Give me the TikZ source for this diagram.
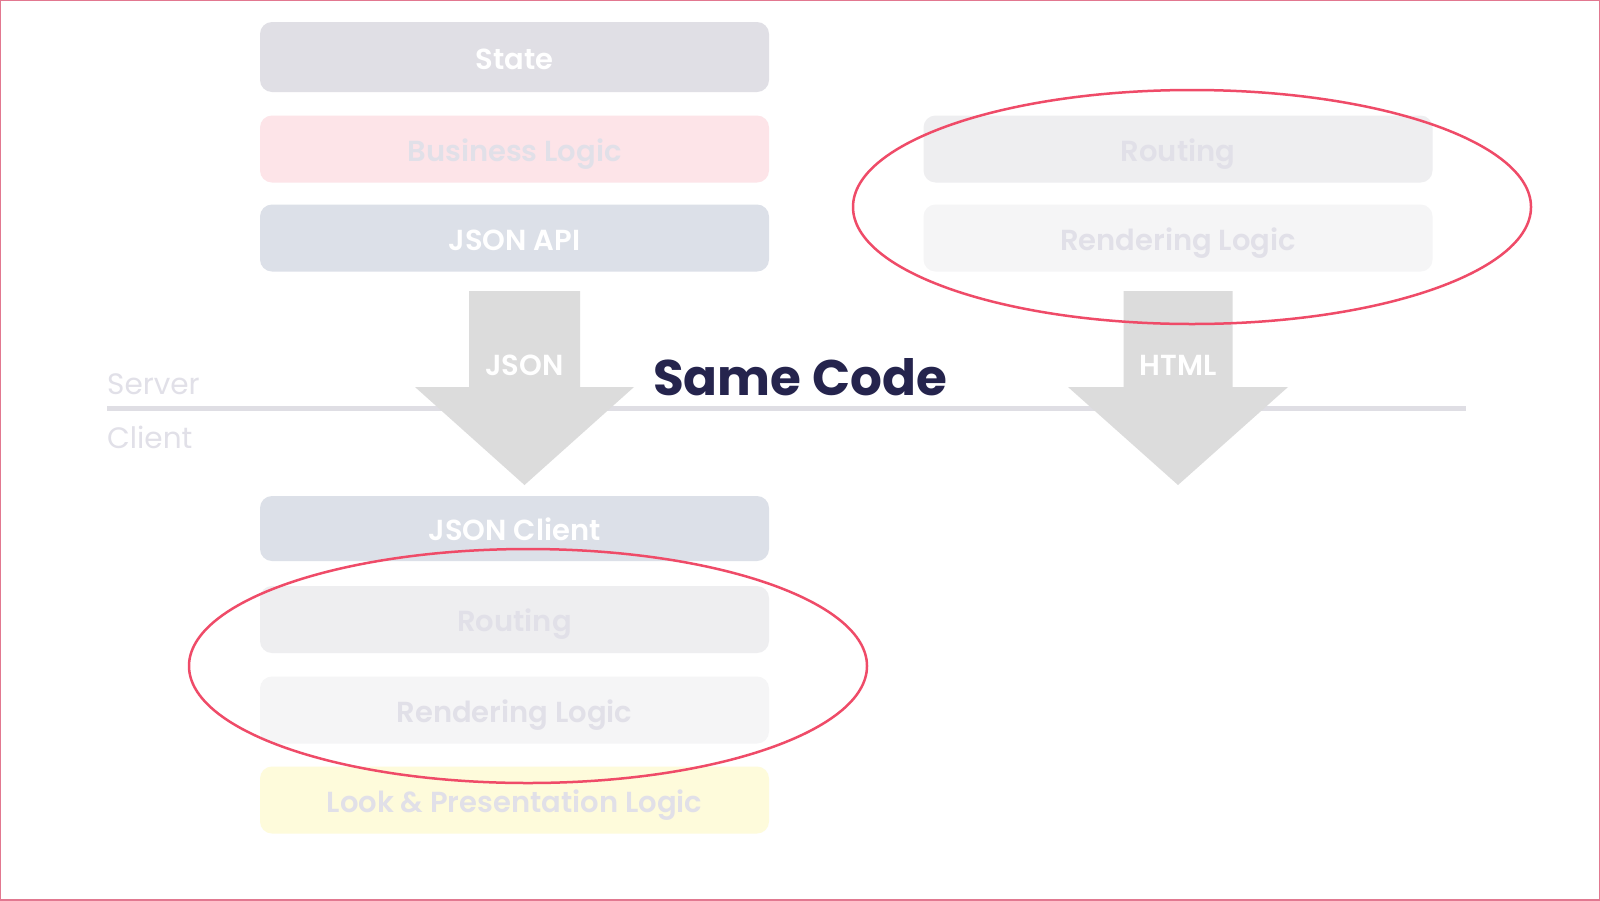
\documentclass[tikz,border=0pt]{standalone}
\usepackage{fontspec}
\setmainfont{Poppins}
\newfontfamily\semibfont{Poppins SemiBold}
\usetikzlibrary{shapes.geometric}
\definecolor{stateC}{HTML}{E0DFE5}
\definecolor{busC}{HTML}{FDE4E8}
\definecolor{apiC}{HTML}{DCE0E8}
\definecolor{routC}{HTML}{EEEEF0}
\definecolor{rendC}{HTML}{F5F5F6}
\definecolor{lookC}{HTML}{FEFBDB}
\definecolor{fadeC}{HTML}{E1E0E8}
\definecolor{lineC}{HTML}{DFDEE4}
\definecolor{arrowC}{HTML}{DCDCDC}
\definecolor{navyC}{HTML}{25244D}
\definecolor{ellC}{HTML}{EF4B68}
\definecolor{borderC}{HTML}{E27890}
\begin{document}
\begin{tikzpicture}[x=1pt,y=-1pt,
  box/.style={rounded corners=12pt, minimum width=509pt, minimum height=67pt, inner sep=0pt,
    font=\fontsize{29}{30}\semibfont, text height=24pt, text depth=0pt, anchor=center},
  lab/.style={font=\fontsize{29}{30}\semibfont, text=white, inner sep=0pt},
  side/.style={font=\fontsize{29.5}{31}\selectfont, text=fadeC, inner sep=0pt, anchor=base west},
  bigarrow/.style={fill=arrowC},
  ring/.style={ellipse, draw=ellC, line width=2.5pt, minimum width=678pt, minimum height=234pt, inner sep=0pt}
]
\useasboundingbox (0,0) rectangle (1600,900);
\fill[white] (0,0) rectangle (1600,900);
\draw[borderC, line width=2pt] (0,0) rectangle (1600,900);

% server/client divider
\coordinate (sl) at (107,408);
\coordinate (sr) at (1466,408);
\draw[lineC, line width=5pt] (sl) -- (sr);
\node[side] (server) at (107,394) {Server};
\node[side] (client) at (107,448) {Client};

% left column
\node[box, fill=stateC, text=white, minimum height=70pt] (state) at (514.5,57) {State};
\node[box, fill=busC, text=fadeC] (bus) at (514.5,149) {Business Logic};
\node[box, fill=apiC, text=white] (api) at (514.5,238) {JSON API};

\node[box, fill=apiC, text=white, minimum height=65pt] (jclient) at (514.5,528.5) {JSON Client};
\node[box, fill=routC, text=fadeC] (lrout) at (514.5,619.5) {Routing};
\node[box, fill=rendC, text=fadeC] (lrend) at (514.5,710) {Rendering Logic};
\node[box, fill=lookC, text=fadeC] (look) at (514.5,800) {Look \& Presentation Logic};

% right column
\node[box, fill=routC, text=fadeC] (rrout) at (1178,149) {Routing};
\node[box, fill=rendC, text=fadeC] (rrend) at (1178,238) {Rendering Logic};

% arrows
\fill[bigarrow] (469,291) -- (580,291) -- (580,387) -- (634,387) -- (524.5,485) -- (415,387) -- (469,387) -- cycle;
\fill[bigarrow] (1123.5,291) -- (1232.5,291) -- (1232.5,387) -- (1288,387) -- (1178,485) -- (1068,387) -- (1123.5,387) -- cycle;
\node[lab] (json) at (524.5,365) {JSON};
\node[lab] (html) at (1178,365) {HTML};

% title
\node[anchor=base west, inner sep=0pt, text=navyC, font=\fontsize{50}{52}\selectfont\bfseries] (same) at (653,395) {Same Code};

% highlight rings
\node[ring] (ringR) at (1192,207) {};
\node[ring] (ringL) at (528,666) {};
\end{tikzpicture}
\end{document}
